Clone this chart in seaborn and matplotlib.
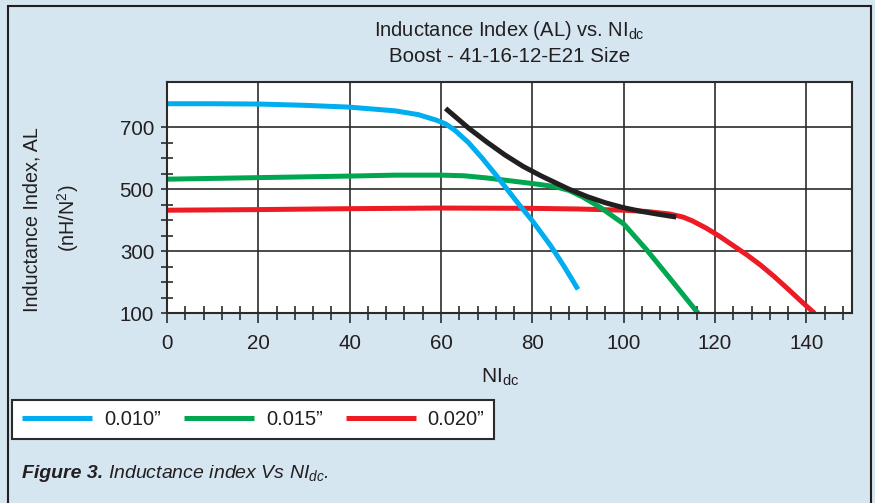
import numpy as np
import pandas as pd
import seaborn as sns
import matplotlib
matplotlib.use("Agg")
import matplotlib.pyplot as plt
from matplotlib import font_manager as fm
from matplotlib.ticker import FixedLocator, MultipleLocator
from matplotlib.lines import Line2D
from matplotlib.patches import Rectangle

# ---- data ----
ni_010 = [0, 10, 20, 30, 40, 50, 55, 59, 61, 63, 66, 69, 72, 77, 80, 84, 87, 90]
al_010 = [775, 775, 774, 770, 764, 752, 740, 722, 710, 690, 650, 600, 546, 452, 398, 318, 250, 177]

ni_015 = [0, 20, 40, 50, 60, 65, 70, 75, 80, 85, 88, 91, 95, 100, 105, 110, 116.3]
al_015 = [532, 537, 542, 545, 545, 543, 536, 527, 518, 508, 496, 475, 440, 388, 305, 215, 100]

ni_020 = [0, 20, 40, 60, 80, 90, 100, 105, 110, 113, 115, 118, 121, 124, 127, 130, 133, 136, 139, 141.8]
al_020 = [432, 434, 437, 439, 438, 436, 432, 428, 420, 410, 398, 375, 348, 318, 288, 255, 218, 178, 137, 100]

ni_knee = [61, 66, 70, 74, 78, 82, 84, 88, 92, 96, 100, 104, 108, 111.5]
al_knee = [760, 697, 652, 610, 573, 542, 528, 500, 476, 456, 440, 428, 418, 410]

series_labels = ["0.010\u201d", "0.015\u201d", "0.020\u201d"]
series_colors = ["#00aeef", "#00a650", "#ed1c24"]
x_ticks = [0, 20, 40, 60, 80, 100, 120, 140]
y_ticks = [100, 300, 500, 700]
y_minor = [150, 200, 250, 350, 400, 450, 550, 600, 650]

title_1 = "Inductance Index (AL) vs. NI$_{\\mathrm{dc}}$"
title_2 = "Boost - 41-16-12-E21 Size"
ylabel_1 = "Inductance Index, AL"
ylabel_2 = "(nH/N$^{\\mathrm{2}}$)"
xlabel = "NI$_{\\mathrm{dc}}$"
caption_a = "Figure 3."
caption_b = "Inductance index Vs NI$_{dc}$."

# ---- style ----
sns.set_style("white")
names = {f.name for f in fm.fontManager.ttflist}
FONT = "Liberation Sans Narrow" if "Liberation Sans Narrow" in names else "Liberation Sans"
plt.rcParams["font.family"] = [FONT, "DejaVu Sans"]
plt.rcParams["mathtext.fontset"] = "custom"
plt.rcParams["mathtext.rm"] = FONT
plt.rcParams["mathtext.it"] = FONT + ":italic"
plt.rcParams["mathtext.bf"] = FONT + ":bold"

BG = "#d5e6f0"
DARK = "#2b2b2b"
TXT = "#231f20"
W, H = 875, 503

fig = plt.figure(figsize=(W / 100, H / 100), dpi=100, facecolor=BG)
L, R, T, B = 167, 852, 82, 313.3
ax = fig.add_axes([L / W, 1 - B / H, (R - L) / W, (B - T) / H])
ax.set_facecolor("white")

lw = 3.6
frames = [
    (ni_020, al_020, series_colors[2]),
    (ni_015, al_015, series_colors[1]),
    (ni_010, al_010, series_colors[0]),
]
for xs, ys, c in frames:
    d = pd.DataFrame({"NI": xs, "AL": ys})
    sns.lineplot(data=d, x="NI", y="AL", color=c, lw=lw, ax=ax,
                 estimator=None, sort=False, solid_capstyle="butt")
dk = pd.DataFrame({"NI": ni_knee, "AL": al_knee})
sns.lineplot(data=dk, x="NI", y="AL", color="#231f20", lw=lw, ax=ax,
             estimator=None, sort=False, solid_capstyle="butt")

ax.set_xlim(0, 150)
ax.set_ylim(100, 845)
ax.set_xlabel("")
ax.set_ylabel("")

ax.xaxis.set_major_locator(FixedLocator(x_ticks))
ax.xaxis.set_minor_locator(MultipleLocator(4))
ax.yaxis.set_major_locator(FixedLocator(y_ticks))
ax.yaxis.set_minor_locator(FixedLocator(y_minor))
ax.set_xticklabels([str(v) for v in x_ticks])
ax.set_yticklabels([str(v) for v in y_ticks])

ax.grid(True, which="major", color=DARK, lw=1.2)
ax.set_axisbelow(True)
for s in ax.spines.values():
    s.set_visible(True)
    s.set_color(DARK)
    s.set_linewidth(1.5)

TS = 14.8
ax.tick_params(axis="x", which="major", direction="out", length=7.2, width=1.2,
               color=DARK, labelsize=TS, pad=8, labelcolor=TXT, bottom=True)
ax.tick_params(axis="x", which="minor", direction="inout", length=9.4, width=1.2,
               color=DARK, bottom=True)
ax.tick_params(axis="y", which="major", direction="out", length=4.3, width=1.2,
               color=DARK, labelsize=TS, pad=5, labelcolor=TXT, left=True)
ax.tick_params(axis="y", which="minor", direction="inout", length=8.6, width=1.2,
               color=DARK, left=True)

# titles and labels
cx = (L + R) / 2 / W
fig.text(cx, 1 - 30 / H, title_1, ha="center", va="center", fontsize=14.5, color=TXT)
fig.text(cx, 1 - 56 / H, title_2, ha="center", va="center", fontsize=14.8, color=TXT)
fig.text(500 / W, 1 - 377 / H, xlabel, ha="center", va="center", fontsize=15, color=TXT)
fig.text(32 / W, 1 - 220 / H, ylabel_1, rotation=90, ha="center", va="center",
         fontsize=14.2, color=TXT)
fig.text(68 / W, 1 - 218 / H, ylabel_2, rotation=90, ha="center", va="center",
         fontsize=14.2, color=TXT)

# legend
LFS = 14.5
em = LFS * 100 / 72
handles = [Line2D([], [], color=c, lw=lw, solid_capstyle="butt") for c in series_colors]
leg = fig.legend(handles, series_labels, loc="upper left",
                 bbox_to_anchor=(12 / W, 1 - 400 / H), ncol=3, frameon=True,
                 fancybox=False, edgecolor=DARK, facecolor="white", framealpha=1,
                 fontsize=LFS, handlelength=70 / em, handletextpad=12 / em,
                 columnspacing=23 / em, borderpad=0.5, borderaxespad=0)
leg.get_frame().set_linewidth(1.5)
for t in leg.get_texts():
    t.set_color(TXT)

# caption
t1 = fig.text(22 / W, 1 - 478 / H, caption_a, fontsize=14, fontweight="bold",
              style="italic", va="baseline", color=TXT)
fig.canvas.draw()
bb = t1.get_window_extent(fig.canvas.get_renderer())
fig.text(bb.x1 / W + 5 / W, 1 - 478 / H, caption_b, fontsize=14, style="italic",
         va="baseline", color=TXT)

# outer frame
fig.patches.append(Rectangle((8 / W, -0.02), (871 - 8) / W, 1 - 5.7 / H + 0.02,
                             transform=fig.transFigure, fill=False,
                             edgecolor="#231f20", lw=1.5))

fig.savefig("out.png", dpi=100, facecolor=BG)
